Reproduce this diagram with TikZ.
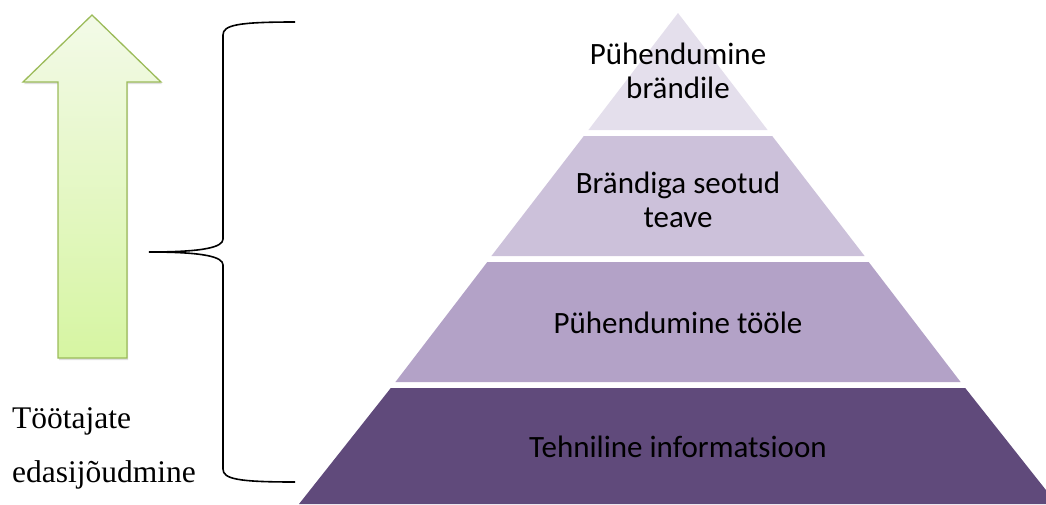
\documentclass[tikz,border=0pt]{standalone}
\usepackage{fontspec}
\setmainfont{Liberation Serif}
\newfontfamily\calibri{Carlito}
\usetikzlibrary{shadows}
\definecolor{lvA}{HTML}{E4DFEC}
\definecolor{lvB}{HTML}{CCC1DA}
\definecolor{lvC}{HTML}{B3A2C7}
\definecolor{lvD}{HTML}{604A7B}
\definecolor{arrowline}{HTML}{9BBB59}
\definecolor{arrowtop}{HTML}{F3FAE8}
\definecolor{arrowbot}{HTML}{D6F5A2}
\tikzset{
  lvtext/.style={font=\calibri\fontsize{31}{34}\selectfont, align=center, inner sep=0pt, text=black},
  sidetext/.style={font=\fontsize{31.5}{54}\selectfont, align=left, inner sep=0pt, text=black},
  bracestyle/.style={draw=black, line width=1.6pt},
  arrowshape/.style={draw=arrowline, line width=1.3pt, top color=arrowtop, bottom color=arrowbot,
     drop shadow={opacity=0.25, shadow xshift=1pt, shadow yshift=-2pt}}
}
\begin{document}
\begin{tikzpicture}[x=1pt,y=-1pt]
\useasboundingbox (0,0) rectangle (1046,504);
% pyramid levels (apex 678,13; half-width 0.766*(y-13))
\begin{scope}
\clip (0,0) rectangle (1046,504);
\fill[lvA] (678,13) -- (767.6,130) -- (588.4,130) -- cycle;
\fill[lvB] (583.8,136) -- (772.2,136) -- (864.6,256) -- (491.4,256) -- cycle;
\fill[lvC] (487.3,262) -- (868.7,262) -- (960.6,382) -- (395.4,382) -- cycle;
\fill[lvD] (390.8,388) -- (965.2,388) -- (1057,504) -- (299,504) -- cycle;
\end{scope}
\node[lvtext] (t1) at (678,71) {Pühendumine\\brändile};
\node[lvtext] (t2) at (678,200) {Brändiga seotud\\teave};
\node[lvtext] (t3) at (678,323) {Pühendumine tööle};
\node[lvtext] (t4) at (678,447) {Tehniline informatsioon};
% arrow
\path[arrowshape] (92,15) -- (161,82) -- (127,82) -- (127,358) -- (58,358) -- (58,82) -- (23,82) -- cycle;
% brace
\coordinate (btop) at (295,22);
\coordinate (btip) at (149,252);
\coordinate (bbot) at (295,482);
\draw[bracestyle] (btop) .. controls (238,22) and (223,25) .. (223,35) -- (223,239)
  .. controls (223,247) and (205,252) .. (btip)
  .. controls (205,252) and (223,257) .. (223,265) -- (223,469)
  .. controls (223,479) and (238,482) .. (bbot);
% side label
\node[sidetext, anchor=base west] (side) at (12,482) {Töötajate\\edasijõudmine};
\end{tikzpicture}
\end{document}
